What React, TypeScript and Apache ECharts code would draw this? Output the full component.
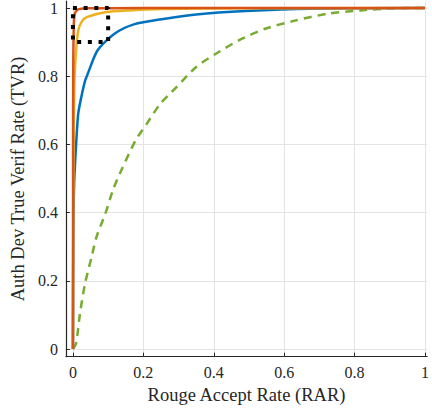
import React, { useEffect, useRef } from "react";
import * as echarts from "echarts";

const tickValues = [0, 0.2, 0.4, 0.6, 0.8, 1];

const orangeX = [0, 0.0005, 0.001, 0.002, 0.003, 0.006, 0.01, 0.015, 0.04, 0.1, 0.3, 1];
const orangeY = [0, 0.7, 0.85, 0.93, 0.965, 0.985, 0.992, 0.996, 0.999, 0.9995, 1, 1];

const yellowX = [0, 0.001, 0.002, 0.004, 0.009, 0.015, 0.025, 0.039, 0.095, 0.16, 0.253, 0.5, 1];
const yellowY = [0, 0.4, 0.6, 0.78, 0.876, 0.934, 0.96, 0.973, 0.988, 0.993, 0.997, 0.999, 1];

const blueX = [0, 0.001, 0.002, 0.004, 0.009, 0.015, 0.024, 0.034, 0.042, 0.07, 0.117, 0.173, 0.257, 0.35, 0.49, 0.676, 1];
const blueY = [0, 0.3, 0.42, 0.5, 0.6, 0.69, 0.74, 0.785, 0.807, 0.876, 0.924, 0.952, 0.968, 0.981, 0.991, 0.998, 1];

const greenX = [0, 0.009, 0.02, 0.034, 0.053, 0.067, 0.092, 0.115, 0.14, 0.178, 0.21, 0.248, 0.294, 0.35, 0.406, 0.471, 0.546, 0.63, 0.723, 0.816, 0.91, 1];
const greenY = [0, 0.017, 0.104, 0.19, 0.27, 0.329, 0.397, 0.47, 0.53, 0.612, 0.661, 0.719, 0.768, 0.827, 0.866, 0.905, 0.939, 0.963, 0.983, 0.993, 0.999, 1];

const boxX = [0, 0.1, 0.1, 0, 0];
const boxY = [1, 1, 0.9, 0.9, 1];

const zip = (xs: number[], ys: number[]) => xs.map((x, i) => [x, ys[i]]);

export default function App() {
  const ref = useRef<HTMLDivElement>(null);
  useEffect(() => {
    if (!ref.current) return;
    const chart = echarts.init(ref.current, null, { renderer: "svg" });
    const font = "Liberation Serif";
    const axisCommon = {
      type: "value" as const,
      axisLine: { show: true, onZero: false, lineStyle: { color: "#262626", width: 1.2 } },
      axisTick: { show: true, inside: true, length: 4, customValues: tickValues, lineStyle: { color: "#262626" } },
      axisLabel: {
        customValues: tickValues,
        color: "#262626",
        fontFamily: font,
        fontSize: 16,
        margin: 8,
        formatter: (v: number) => String(Math.round(v * 10) / 10),
      },
      splitLine: { show: true, lineStyle: { color: "#e3e3e3", width: 1 } },
      nameLocation: "middle" as const,
      nameTextStyle: { color: "#262626", fontFamily: font, fontSize: 18.5 },
    };
    const lineCommon = { type: "line" as const, showSymbol: false, smooth: 0.25 };
    chart.setOption({
      animation: false,
      backgroundColor: "#ffffff",
      grid: { left: 64.4, right: 0.9, top: 0.2, bottom: 53.3 },
      xAxis: { ...axisCommon, min: -0.02, max: 1.006, name: "Rouge Accept Rate (RAR)", nameGap: 28 },
      yAxis: { ...axisCommon, min: -0.0225, max: 1.02, name: "Auth Dev True Verif Rate (TVR)", nameGap: 36 },
      series: [
        { ...lineCommon, data: zip(greenX, greenY), lineStyle: { color: "#77AC30", width: 2.5, type: [8, 6] } },
        { ...lineCommon, data: zip(blueX, blueY), lineStyle: { color: "#0072BD", width: 2.5 } },
        { ...lineCommon, data: zip(yellowX, yellowY), lineStyle: { color: "#EDB120", width: 2.5 } },
        { ...lineCommon, data: zip(orangeX, orangeY), lineStyle: { color: "#D95319", width: 2.5 } },
        {
          type: "line", data: zip(boxX, boxY), showSymbol: false,
          lineStyle: { color: "#000000", width: 4, type: [4, 6.7] },
        },
      ],
    });
    return () => chart.dispose();
  }, []);
  return <div ref={ref} style={{ width: 432, height: 410, position: "absolute", left: 0, top: 0 }} />;
}
